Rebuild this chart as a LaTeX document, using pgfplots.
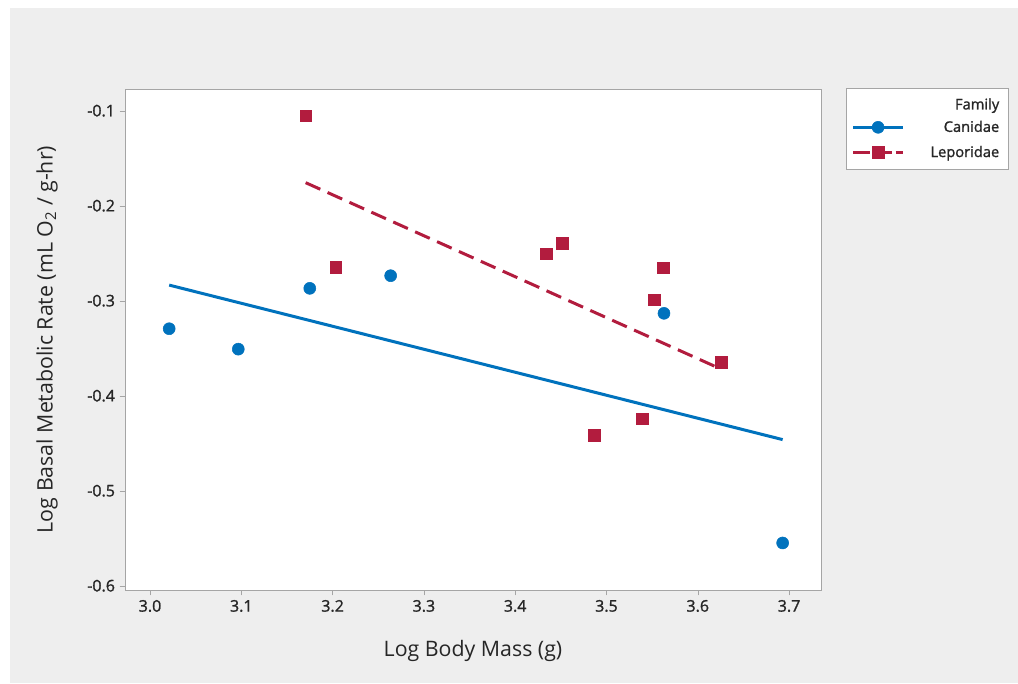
\documentclass[border=0pt]{standalone}
\usepackage{fontspec}
\setmainfont{Open Sans}
\newfontfamily\semib{Open Sans}[FakeBold=1.3]
\usepackage{pgfplots}
\pgfplotsset{compat=1.18}
\definecolor{cblue}{RGB}{0,114,189}
\definecolor{cred}{RGB}{178,28,62}
\definecolor{panel}{RGB}{238,238,238}
\definecolor{framec}{RGB}{165,165,165}
\begin{document}
\begin{tikzpicture}
\fill[white] (0,0) rectangle (763.5pt,512.25pt);
\fill[panel] (7.5pt,0) rectangle (763.5pt,506.25pt);
\begin{axis}[
  at={(93.75pt,69.75pt)}, anchor=south west,
  width=522pt, height=375.75pt, scale only axis,
  xmin=2.9726, xmax=3.735, ymin=-0.6045, ymax=-0.0772,
  axis background/.style={fill=white},
  axis line style={framec},
  xtick={3.0,3.1,3.2,3.3,3.4,3.5,3.6,3.7},
  ytick={-0.6,-0.5,-0.4,-0.3,-0.2,-0.1},
  tick pos=left, tick align=outside, major tick length=4pt,
  tick style={framec},
  /pgf/number format/fixed, /pgf/number format/fixed zerofill,
  /pgf/number format/precision=1, /pgf/number format/assume math mode=true,
  ticklabel style={font=\semib\fontsize{12}{14}\selectfont, text=black!85},
  xlabel={Log Body Mass (g)},
  ylabel={Log Basal Metabolic Rate (mL O\textsubscript{2} / g-hr)},
  label style={font=\fontsize{16}{19}\selectfont, text=black!85},
  xlabel style={at={(axis description cs:0.5,-0.1218)}, anchor=center},
  ylabel style={at={(axis description cs:-0.112,0.5)}, anchor=center},
  legend cell align=right,
  legend image code/.code={\draw[mark repeat=2,mark phase=2] plot coordinates {(0pt,0pt)(18.75pt,0pt)(37.5pt,0pt)};},
  legend style={at={(axis description cs:1.0359,1.002)}, anchor=north west,
    draw=framec, fill=white, font=\semib\fontsize{11}{13}\selectfont,
    inner xsep=4pt, inner ysep=5.5pt, row sep=5pt,
    nodes={text width=68pt, align=right, inner xsep=3pt, text=black!85}},
]
\addlegendimage{empty legend}\addlegendentry{\raisebox{-2pt}{Family}}
\addlegendimage{cblue, line width=2.25pt, mark=*, mark size=4.5pt, mark options={solid, line width=0.4pt}}\addlegendentry{Canidae}
\addlegendimage{cred, line width=2.25pt, dash pattern=on 13pt off 3pt, mark=square*, mark size=4.3pt, mark options={solid, line width=0.4pt}}\addlegendentry{Leporidae}

\addplot[cblue, line width=2.25pt, forget plot] coordinates {(3.021,-0.2836) (3.693,-0.4462)};
\addplot[cred, line width=2.25pt, dash pattern=on 12pt off 6pt, forget plot] coordinates {(3.1705,-0.1758) (3.626,-0.3722)};

\addplot[only marks, mark=*, cblue, mark size=4.5pt, forget plot] coordinates {
(3.021,-0.3295) (3.0967,-0.3510) (3.175,-0.2870) (3.2636,-0.2737) (3.563,-0.3133) (3.693,-0.5550)};
\addplot[only marks, mark=square*, cred, mark size=4.3pt, forget plot] coordinates {
(3.1705,-0.1056) (3.2034,-0.2648) (3.4340,-0.2508) (3.4516,-0.2396) (3.5622,-0.2653)
(3.5524,-0.2993) (3.6260,-0.3648) (3.4866,-0.4414) (3.5390,-0.4245)};
\end{axis}
\end{tikzpicture}
\end{document}
